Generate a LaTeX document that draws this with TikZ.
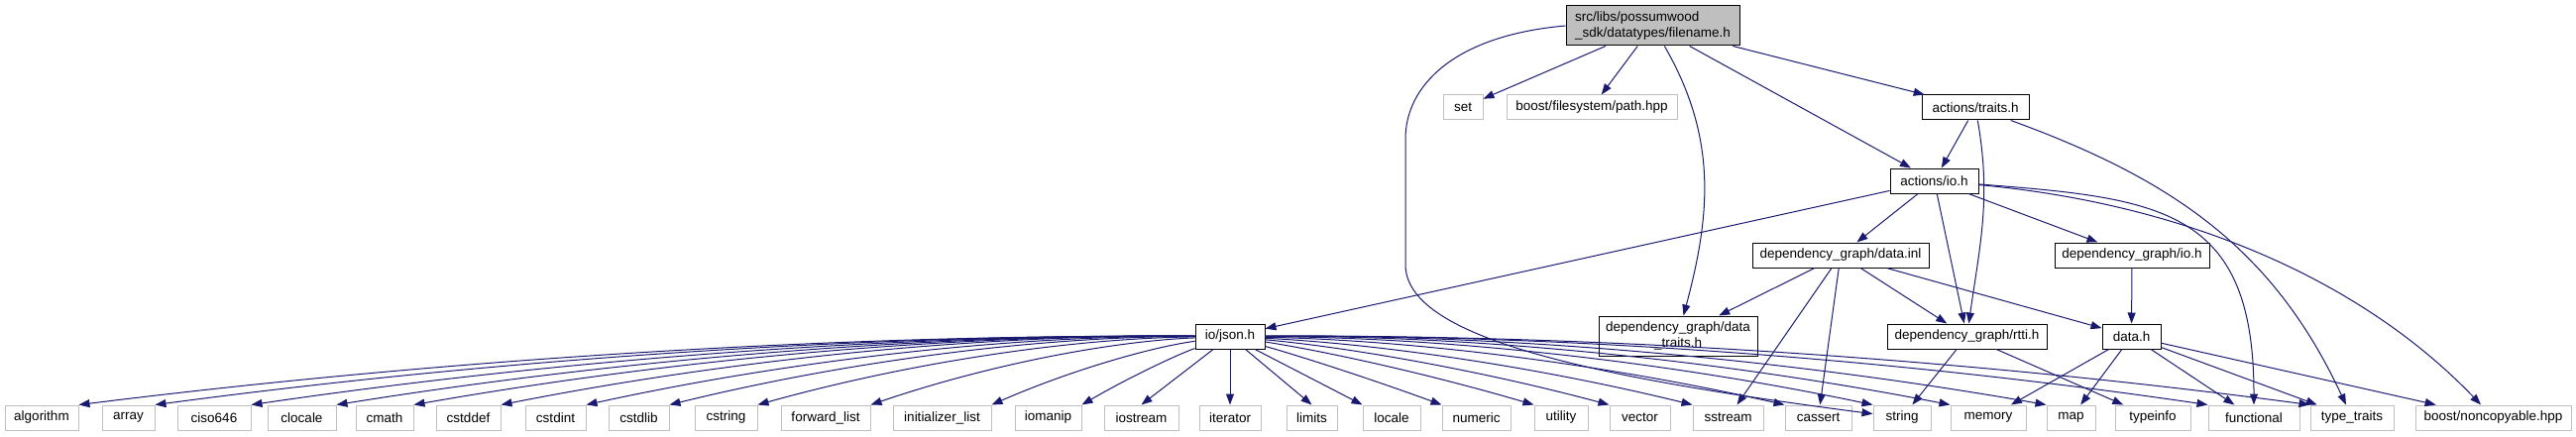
\documentclass[tikz,border=0pt]{standalone}
\usepackage{fontspec}
\setmainfont{Liberation Sans}
\usetikzlibrary{arrows.meta,calc}
\definecolor{edgeblue}{HTML}{191970}
\definecolor{leafgray}{HTML}{BFBFBF}

\begin{document}
\begin{tikzpicture}[x=1pt,y=1pt,font=\fontsize{13.5}{15.5}\selectfont,
  box/.style={line width=1pt,minimum height=25pt,inner sep=1pt,fill=white},
  hdr/.style={box,draw=black},
  sys/.style={box,draw=leafgray},
  dep/.style={draw=edgeblue,line width=1pt,-{Triangle[length=11pt,width=8pt]}}]
  \useasboundingbox (0,0) rectangle (2599,440);
  \node[hdr,fill=leafgray,minimum width=175pt,minimum height=40pt,align=left] (root) at (1667.5,414) {src/libs/possumwood\\\_sdk/datatypes/filename.h};
  \node[sys,minimum width=40pt] (set) at (1476,331.5) {set};
  \node[sys,minimum width=172pt] (path) at (1606,331.5) {boost/filesystem/path.hpp};
  \node[hdr,minimum width=108pt] (traits) at (1993,331.5) {actions/traits.h};
  \node[hdr,minimum width=89pt] (actio) at (1951.5,257.5) {actions/io.h};
  \node[hdr,minimum width=178pt] (datainl) at (1857,182.5) {dependency\_graph/data.inl};
  \node[hdr,minimum width=156pt] (dgio) at (2151,182.5) {dependency\_graph/io.h};
  \node[hdr,minimum width=160pt,minimum height=40pt,align=center] (dtraits) at (1693,101) {dependency\_graph/data\\\_traits.h};
  \node[hdr,minimum width=161pt] (rtti) at (1984.5,100.5) {dependency\_graph/rtti.h};
  \node[hdr,minimum width=59pt] (datah) at (2150.5,100.5) {data.h};
  \node[hdr,minimum width=70pt] (json) at (1241,100.5) {io/json.h};

  \foreach \n/\t/\x/\w in {algorithm/algorithm/42/74, array/array/129.5/53, ciso646/ciso646/216/74,
      clocale/clocale/304.5/69, cmath/cmath/388/58, cstddef/cstddef/472.5/65, cstdint/cstdint/560.5/61,
      cstdlib/cstdlib/644.5/61, cstring/cstring/732.5/63, fwdlist/forward\_list/833/90,
      initlist/initializer\_list/950.5/99, iomanip/iomanip/1057.5/67, iostream/iostream/1151.5/75,
      iterator/iterator/1241/62, limits/limits/1323.5/51, locale/locale/1404/58, numeric/numeric/1489.5/69,
      utility/utility/1575/54, vector/vector/1654.5/61, sstream/sstream/1743.5/71, cassert/cassert/1834.5/67,
      string/string/1919/58, memory/memory/2006/76, map/map/2089.5/49, typeinfo/typeinfo/2172/76,
      functional/functional/2274/92, typetraits/type\_traits/2373/84}
    \node[sys,minimum width=\w pt] (\n) at (\x,18.5) {\t};
  \node[sys,minimum width=157pt] (noncopy) at (2515.5,18.5) {boost/noncopyable.hpp};

  \draw[dep] (root) -- (set);
  \draw[dep] (root) -- (path);
  \draw[dep] (root.west) .. controls (1465,404) and (1418,352) .. (1418,300) -- (1418,173)
    .. controls (1418,100) and (1600,60) .. (string);
  \draw[dep] (root) to[out=-60,in=75] (dtraits);
  \draw[dep] (root) -- (actio);
  \draw[dep] (root) -- (traits);

  \draw[dep] (traits) -- (actio);
  \draw[dep] (traits) to[out=-80,in=82] (rtti);
  \draw[dep] (traits) to[out=-20,in=115] (typetraits);

  \draw[dep] (actio) -- (json);
  \draw[dep] (actio) -- (datainl);
  \draw[dep] (actio) -- (rtti);
  \draw[dep] (actio) -- (dgio);
  \draw[dep] (actio) .. controls (2180,240) and (2274,230) .. (functional);
  \draw[dep] (actio) .. controls (2200,235) and (2380,160) .. (noncopy);

  \draw[dep] (datainl) -- (dtraits);
  \draw[dep] (datainl) -- (sstream);
  \draw[dep] (datainl) -- (cassert);
  \draw[dep] (datainl) -- (rtti);
  \draw[dep] (datainl) -- (datah);
  \draw[dep] (dgio) -- (datah);

  \draw[dep] (rtti) -- (string);
  \draw[dep] (rtti) -- (typeinfo);
  \foreach \n in {memory,map,functional,typetraits,noncopy}
    \draw[dep] (datah) -- (\n);

  \foreach \n/\a/\h in {algorithm/north east/25, array/north east/25, ciso646/north east/25,
      clocale/north east/25, cmath/north east/25, cstddef/north east/25, cstdint/north east/24,
      cstdlib/north east/23, cstring/north east/21, fwdlist/north east/18, initlist/north east/12,
      iomanip/north east/6, iostream/north/0, iterator/north/0, limits/north/0, locale/north west/0,
      numeric/north west/3, utility/north west/7, vector/north west/11, sstream/north west/15,
      cassert/north west/19, string/north west/22, memory/north west/24, map/north west/25,
      functional/north west/25, typetraits/north west/25}
    \draw[dep] (json) .. controls ($(json)!0.33!(\n.\a)+(0,\h)$) and ($(json)!0.67!(\n.\a)+(0,\h)$) .. (\n.\a);
\end{tikzpicture}
\end{document}
